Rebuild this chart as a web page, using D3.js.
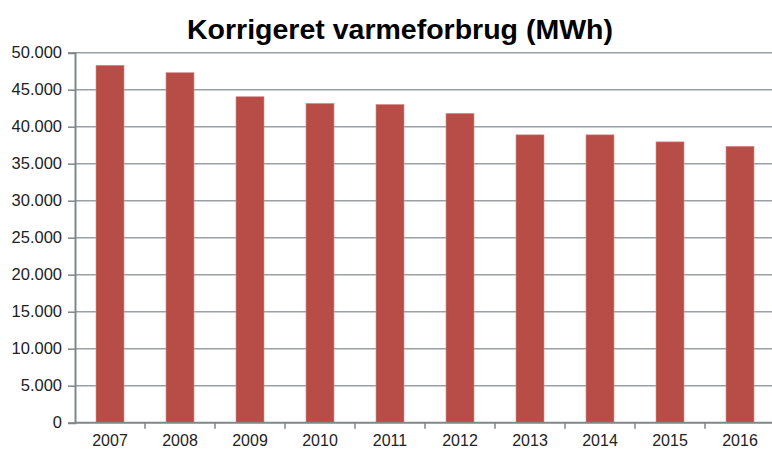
<!DOCTYPE html>
<html><head><meta charset="utf-8">
<script src="https://cdn.jsdelivr.net/npm/d3@7"></script>
<style>body{margin:0;background:#fff}svg{display:block}</style>
</head><body>
<svg id="c" width="772" height="450"></svg>
<script>
const title = "Korrigeret varmeforbrug (MWh)";
const years = ["2007","2008","2009","2010","2011","2012","2013","2014","2015","2016"];
const values = [48300,47300,44050,43150,43000,41800,38900,38900,37950,37350];
const yTicks = [0,5000,10000,15000,20000,25000,30000,35000,40000,45000,50000];

const svg = d3.select("#c");
const m = {left:75, right:-3, top:52.7, bottom:27.3};
const W = 772, H = 450;
const x = d3.scaleBand().domain(years).range([m.left, W - m.right]).paddingInner(0.6).paddingOuter(0.3);
const y = d3.scaleLinear().domain([0,50000]).range([H - m.bottom, m.top]);
const fmt = d => d3.format(",")(d).replace(/,/g,".");

// gridlines
svg.append("g").selectAll("line").data(yTicks.filter(d=>d>0)).join("line")
  .attr("x1", m.left).attr("x2", W).attr("y1", d=>y(d)).attr("y2", d=>y(d))
  .attr("stroke","#9aa0a3").attr("stroke-width",1.6);

// bars
svg.append("g").selectAll("rect").data(values).join("rect")
  .attr("x",(d,i)=>x(years[i])).attr("width",x.bandwidth())
  .attr("y",d=>y(d)).attr("height",d=>y(0)-y(d))
  .attr("fill","#b84d47").attr("stroke","#d98a86").attr("stroke-width",0.6);

// y axis
const ya = svg.append("g").attr("transform",`translate(${m.left},0)`)
  .call(d3.axisLeft(y).tickValues(yTicks).tickFormat(fmt).tickSize(7).tickPadding(6));
ya.select(".domain").attr("stroke","#7f878a").attr("stroke-width",2);
ya.selectAll(".tick line").attr("stroke","#7f878a").attr("stroke-width",1.5);
ya.selectAll("text").attr("font-family","Liberation Sans, Arial, sans-serif").attr("font-size",16.5).attr("fill","#222");

// x axis
const xa = svg.append("g").attr("transform",`translate(0,${y(0)})`)
  .call(d3.axisBottom(x).tickSize(0).tickPadding(12));
xa.select(".domain").remove();
svg.append("line").attr("x1",m.left).attr("x2",W).attr("y1",y(0)).attr("y2",y(0))
  .attr("stroke","#7f878a").attr("stroke-width",2);
const step = x.step();
svg.append("g").selectAll("line").data(years.slice(1)).join("line")
  .attr("x1",d=>x(d)-(step-x.bandwidth())/2).attr("x2",d=>x(d)-(step-x.bandwidth())/2)
  .attr("y1",y(0)).attr("y2",y(0)+6).attr("stroke","#7f878a").attr("stroke-width",1.5);
xa.selectAll("text").attr("font-family","Liberation Sans, Arial, sans-serif").attr("font-size",16).attr("fill","#222");

// title
svg.append("text").attr("x",400).attr("y",39).attr("text-anchor","middle")
  .attr("font-family","Liberation Sans, Arial, sans-serif")
  .attr("font-weight","bold").attr("font-size",28.5).attr("fill","#000").text(title);
</script>
</body></html>
